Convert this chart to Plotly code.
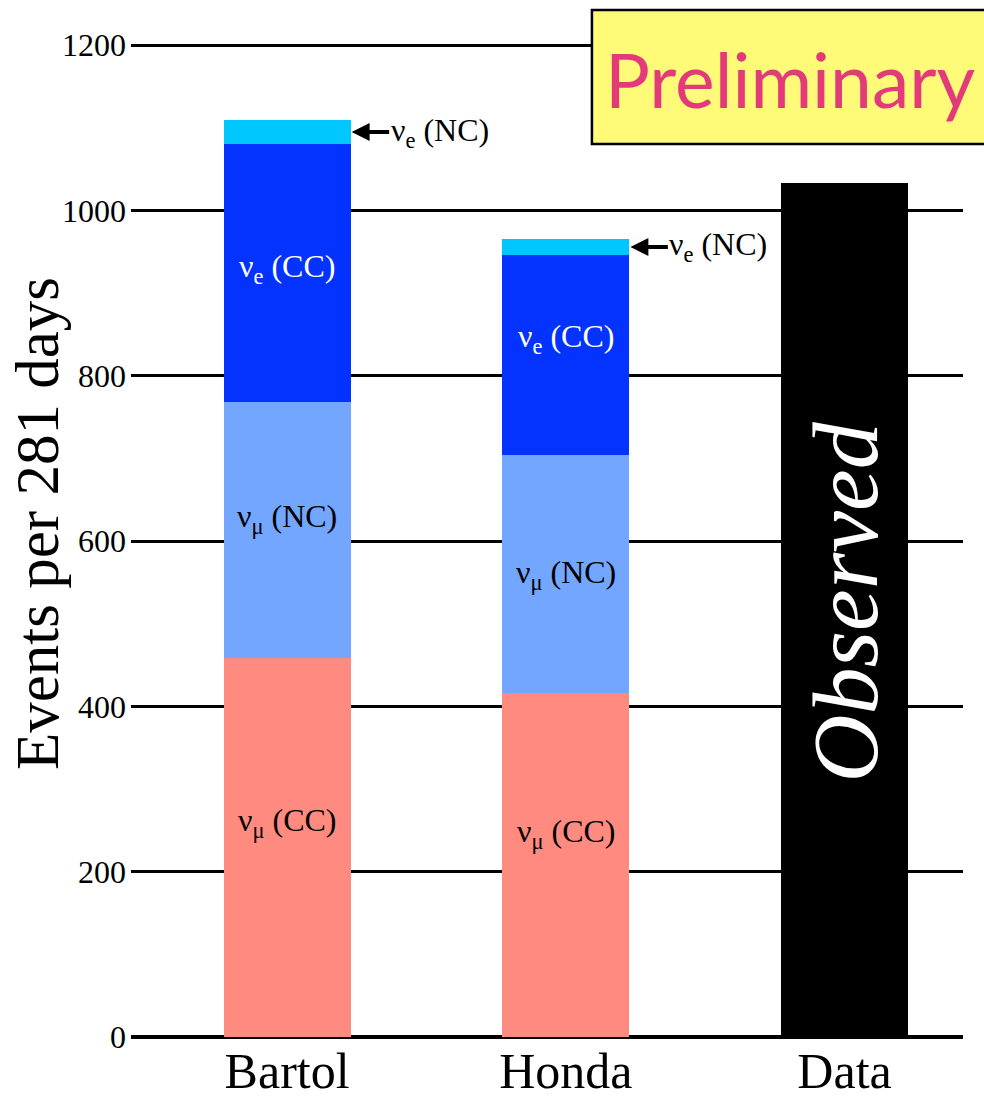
import plotly.graph_objects as go

# Expected event counts per 281 days, by flux model, stacked by channel
models = ["Bartol", "Honda"]
numu_cc = [458, 416]
numu_nc = [310, 288]
nue_cc = [313, 242]
nue_nc = [28, 20]

# Observed total
data_label = "Data"
observed = [1033]

categories = ["Bartol", "Honda", "Data"]
y_ticks = [0, 200, 400, 600, 800, 1000, 1200]

# Vertical placement of the in-bar channel labels (axis units)
label_y_numu_cc = [260, 246]
label_y_numu_nc = [627, 560]
label_y_nue_cc = [930, 845]

SERIF = "Liberation Serif, Times New Roman, serif"
BAR_W = 0.456

segments = [
    ("νμ (CC)", numu_cc, "#FF8A80"),
    ("νμ (NC)", numu_nc, "#72A6FF"),
    ("νe (CC)", nue_cc, "#0432FF"),
    ("νe (NC)", nue_nc, "#00C8FF"),
]

fig = go.Figure()
for name, vals, col in segments:
    fig.add_trace(go.Bar(
        x=models, y=vals, name=name, width=BAR_W,
        marker=dict(color=col, line=dict(width=0)),
        showlegend=False, hoverinfo="y+name",
    ))
fig.add_trace(go.Bar(
    x=[data_label], y=observed, name="Observed", width=BAR_W,
    marker=dict(color="#000000", line=dict(width=0)),
    showlegend=False,
))

annotations = []

# Channel labels inside the stacked bars
def chan_label(x, y, flavour, kind, color):
    return dict(
        x=x, y=y, xref="x", yref="y", showarrow=False,
        text=f"ν<sub>{flavour}</sub> ({kind})",
        font=dict(family=SERIF, size=32, color=color),
        xanchor="center", yanchor="middle",
    )

for i, m in enumerate(models):
    annotations.append(chan_label(m, label_y_numu_cc[i], "μ", "CC", "black"))
    annotations.append(chan_label(m, label_y_numu_nc[i], "μ", "NC", "black"))
    annotations.append(chan_label(m, label_y_nue_cc[i], "e", "CC", "white"))

# Arrows pointing at the thin νe (NC) slice on top of each model bar
for i, m in enumerate(models):
    base = numu_cc[i] + numu_nc[i] + nue_cc[i]
    mid = base + nue_nc[i] / 2
    xr = i + BAR_W / 2
    annotations.append(dict(
        x=xr, y=mid, xref="x", yref="y",
        ax=40, ay=0, axref="pixel", ayref="pixel",
        text="", showarrow=True, arrowhead=2, arrowsize=0.9,
        arrowwidth=4, arrowcolor="black", standoff=1,
    ))
    annotations.append(dict(
        x=xr, y=mid, xref="x", yref="y", xshift=38,
        text="ν<sub>e</sub> (NC)", showarrow=False,
        font=dict(family=SERIF, size=32, color="black"),
        xanchor="left", yanchor="middle",
    ))

# Rotated label on the observed bar
annotations.append(dict(
    x=data_label, y=observed[0] / 2 + 10, xref="x", yref="y",
    text="<i>Observed</i>", showarrow=False, textangle=-90,
    font=dict(family=SERIF, size=94, color="white"),
    xanchor="center", yanchor="middle",
))

# Y-axis title
annotations.append(dict(
    x=-0.113, y=0.514, xref="paper", yref="paper",
    text="Events per 281 days", showarrow=False, textangle=-90,
    font=dict(family=SERIF, size=61, color="black"),
    xanchor="center", yanchor="middle",
))

# "Preliminary" stamp
annotations.append(dict(
    x=0.567, y=0.958, xref="paper", yref="paper",
    text="Preliminary", showarrow=False,
    font=dict(family="Lato, Open Sans, sans-serif", size=75, color="#E33A7A"),
    xanchor="left", yanchor="middle",
))

shapes = [dict(
    type="rect", xref="paper", yref="paper",
    x0=0.554, x1=1.04, y0=0.893, y1=1.027,
    fillcolor="#FFFA78", line=dict(color="black", width=2.5), layer="above",
)]

fig.update_layout(
    barmode="stack",
    width=984, height=1097,
    margin=dict(l=131, r=21, t=37, b=60, autoexpand=False),
    plot_bgcolor="white", paper_bgcolor="white",
    annotations=annotations, shapes=shapes,
    xaxis=dict(
        type="category", categoryorder="array", categoryarray=categories,
        range=[-0.56, 2.425], showgrid=False, zeroline=False, showline=False,
        ticks="", automargin=False,
        tickfont=dict(family=SERIF, size=50, color="black"),
    ),
    yaxis=dict(
        range=[0, 1210], tickvals=y_ticks, automargin=False,
        showgrid=True, gridcolor="black", gridwidth=3,
        zeroline=True, zerolinecolor="black", zerolinewidth=4,
        showline=False, ticks="", ticklabelstandoff=4,
        tickfont=dict(family=SERIF, size=32, color="black"),
    ),
)

fig.write_html("out.html")
